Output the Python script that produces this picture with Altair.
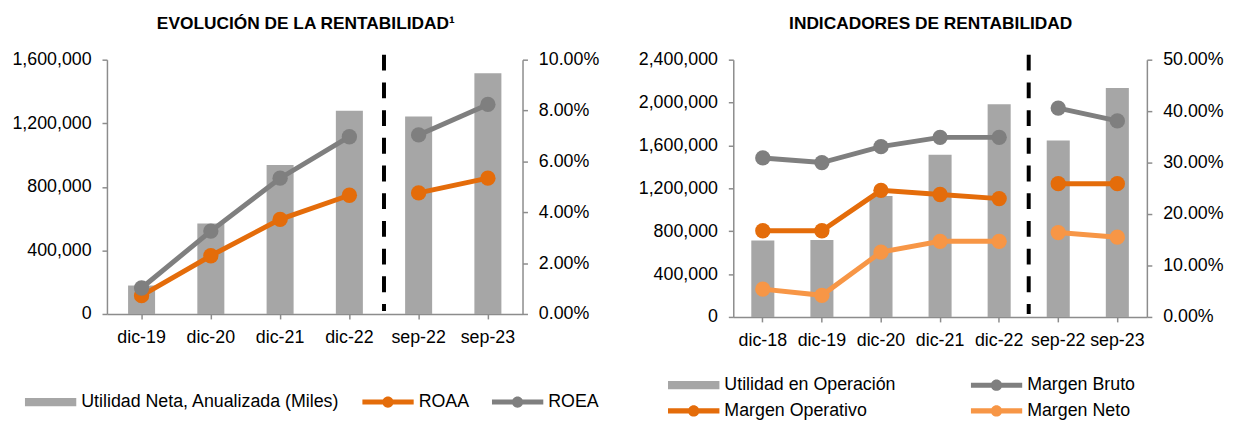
import altair as alt
import pandas as pd

FONT = "Liberation Sans"
AXIS_GRAY = "#8C8C8C"
FS = 18

# ---------------- Left chart data ----------------
left_title = "EVOLUCIÓN DE LA RENTABILIDAD¹"
left_categories = ["dic-19", "dic-20", "dic-21", "dic-22", "sep-22", "sep-23"]
left_periods = ["dic", "dic", "dic", "dic", "sep", "sep"]
utilidad_neta = [179000, 570000, 938000, 1278000, 1242000, 1515000]
roaa = [0.0072, 0.0229, 0.0372, 0.0467, 0.0476, 0.0534]
roea = [0.0102, 0.0326, 0.0534, 0.0697, 0.0704, 0.0824]
left_bar_label = "Utilidad Neta, Anualizada (Miles)"
left_line_labels = ["ROAA", "ROEA"]
left_line_colors = ["#E46C0A", "#7F7F7F"]
left_separator = ["sep-22"]
left_amount_ticks = [0, 400000, 800000, 1200000, 1600000]
left_pct_ticks = [0, 0.02, 0.04, 0.06, 0.08, 0.10]

# ---------------- Right chart data ----------------
right_title = "INDICADORES DE RENTABILIDAD"
right_categories = ["dic-18", "dic-19", "dic-20", "dic-21", "dic-22", "sep-22", "sep-23"]
right_periods = ["dic", "dic", "dic", "dic", "dic", "sep", "sep"]
utilidad_operacion = [712000, 718000, 1128000, 1513000, 1984000, 1645000, 2135000]
margen_bruto = [0.309, 0.300, 0.331, 0.349, 0.349, 0.406, 0.381]
margen_operativo = [0.1675, 0.1675, 0.246, 0.238, 0.230, 0.259, 0.259]
margen_neto = [0.054, 0.042, 0.126, 0.147, 0.147, 0.164, 0.155]
right_bar_label = "Utilidad en Operación"
right_line_labels = ["Margen Bruto", "Margen Operativo", "Margen Neto"]
right_line_colors = ["#7F7F7F", "#E46C0A", "#F79646"]
right_separator = ["sep-22"]
right_amount_ticks = [0, 400000, 800000, 1200000, 1600000, 2000000, 2400000]
right_pct_ticks = [0, 0.10, 0.20, 0.30, 0.40, 0.50]

BAR_COLOR = "#A6A6A6"
RECT_PATH = "M-1,-0.16H1V0.16H-1Z"
LINE_DOT_PATH = ("M-1,-0.1H1V0.1H-1Z M0.22,0 A0.22,0.22 0 1,1 -0.22,0 "
                 "A0.22,0.22 0 1,1 0.22,0 Z")


def panel(title, cats, periods, bars, bar_label, line_labels, line_series,
          line_colors, separator, amount_ticks, pct_ticks, width, height,
          legend_x, legend_y, legend_cols, legend_order, col_pad):
    bar_df = pd.DataFrame({"cat": cats, "value": bars})
    rows = []
    for lbl, vals in zip(line_labels, line_series):
        for c, p, v in zip(cats, periods, vals):
            rows.append({"cat": c, "series": lbl, "seg": lbl + p, "pct": v})
    line_df = pd.DataFrame(rows)
    sep_df = pd.DataFrame({"cat": separator})
    legend_df = pd.DataFrame({"series": legend_order})

    all_labels = [bar_label] + line_labels
    all_colors = [BAR_COLOR] + line_colors
    all_shapes = [RECT_PATH] + [LINE_DOT_PATH] * len(line_labels)
    order_idx = [all_labels.index(s) for s in legend_order]

    xscale = alt.Scale(domain=cats, paddingInner=0, paddingOuter=0)
    xaxis = alt.Axis(title=None, labelAngle=0, labelFont=FONT, labelFontSize=FS,
                     labelColor="black", tickSize=5, tickColor=AXIS_GRAY,
                     tickWidth=1.5, domainColor=AXIS_GRAY, domainWidth=1.5,
                     labelPadding=10)

    bars_layer = alt.Chart(bar_df).mark_bar(
        color=BAR_COLOR, width=alt.RelativeBandSize(0.39)
    ).encode(
        x=alt.X("cat:N", scale=xscale, axis=xaxis, sort=cats),
        y=alt.Y("value:Q",
                scale=alt.Scale(domain=[amount_ticks[0], amount_ticks[-1]], nice=False),
                axis=alt.Axis(title=None, orient="left", values=amount_ticks,
                              format=",.0f", grid=False, labelFont=FONT,
                              labelFontSize=FS, labelColor="black", tickSize=5,
                              tickColor=AXIS_GRAY, tickWidth=1.5,
                              domainColor=AXIS_GRAY, domainWidth=1.5,
                              labelPadding=11)),
    )

    pct_y = alt.Y("pct:Q",
                  scale=alt.Scale(domain=[pct_ticks[0], pct_ticks[-1]], nice=False),
                  axis=alt.Axis(title=None, orient="right", values=pct_ticks,
                                format=".2%", grid=False, labelFont=FONT,
                                labelFontSize=FS, labelColor="black", tickSize=5,
                                tickColor=AXIS_GRAY, tickWidth=1.5,
                                domainColor=AXIS_GRAY, domainWidth=1.5,
                                labelPadding=11))
    color_enc = alt.Color("series:N",
                          scale=alt.Scale(domain=line_labels, range=line_colors),
                          legend=None)
    lines_layer = alt.Chart(line_df).mark_line(strokeWidth=5).encode(
        x=alt.X("cat:N", sort=cats), y=pct_y, color=color_enc, detail="seg:N"
    )
    points_layer = alt.Chart(line_df).mark_circle(size=240, opacity=1).encode(
        x=alt.X("cat:N", sort=cats), y=alt.Y("pct:Q"), color=color_enc
    )
    pct_layer = alt.layer(lines_layer, points_layer)

    sep_layer = alt.Chart(sep_df).mark_rule(
        color="black", strokeWidth=4, strokeDash=[16, 12]
    ).encode(
        x=alt.X("cat:N", bandPosition=0),
        y=alt.value(-5), y2=alt.value(height - 3),
    )

    leg = alt.Legend(orient="none", legendX=legend_x, legendY=legend_y,
                     direction="horizontal", columns=legend_cols, title=None,
                     labelFont=FONT, labelFontSize=FS, labelColor="black",
                     labelLimit=0,
                     symbolSize=2704, symbolStrokeWidth=0, clipHeight=16,
                     columnPadding=col_pad, rowPadding=8, labelOffset=5,
                     symbolOpacity=1)
    legend_layer = alt.Chart(legend_df).mark_point(
        filled=True, opacity=1, strokeWidth=0
    ).encode(
        fill=alt.Fill("series:N",
                      scale=alt.Scale(domain=legend_order,
                                      range=[all_colors[i] for i in order_idx]),
                      legend=leg),
        shape=alt.Shape("series:N",
                        scale=alt.Scale(domain=legend_order,
                                        range=[all_shapes[i] for i in order_idx]),
                        legend=leg),
    ).transform_filter("false")

    return alt.layer(
        bars_layer, sep_layer, pct_layer, legend_layer
    ).resolve_scale(y="independent").properties(
        width=width, height=height,
        title=alt.TitleParams(title, font=FONT, fontSize=17.5, fontWeight="bold",
                              color="black", anchor="middle", frame="bounds",
                              offset=19),
    )


left = panel(left_title, left_categories, left_periods, utilidad_neta,
             left_bar_label, left_line_labels, [roaa, roea], left_line_colors,
             left_separator, left_amount_ticks, left_pct_ticks, 420, 257,
             -83, 338, 0, [left_bar_label] + left_line_labels, 22)

right = panel(right_title, right_categories, right_periods, utilidad_operacion,
              right_bar_label, right_line_labels,
              [margen_bruto, margen_operativo, margen_neto], right_line_colors,
              right_separator, right_amount_ticks, right_pct_ticks, 418, 260,
              -66, 321, 2,
              [right_bar_label, "Margen Bruto", "Margen Operativo", "Margen Neto"],
              75)

chart = alt.hconcat(left, right, spacing=38).resolve_scale(
    x="independent", y="independent", color="independent",
    fill="independent", shape="independent"
).properties(
    padding={"left": 3, "top": 4, "right": 5, "bottom": 5}
).configure_view(stroke=None)

chart.save("out.html", embed_options={"renderer": "svg", "actions": False})
